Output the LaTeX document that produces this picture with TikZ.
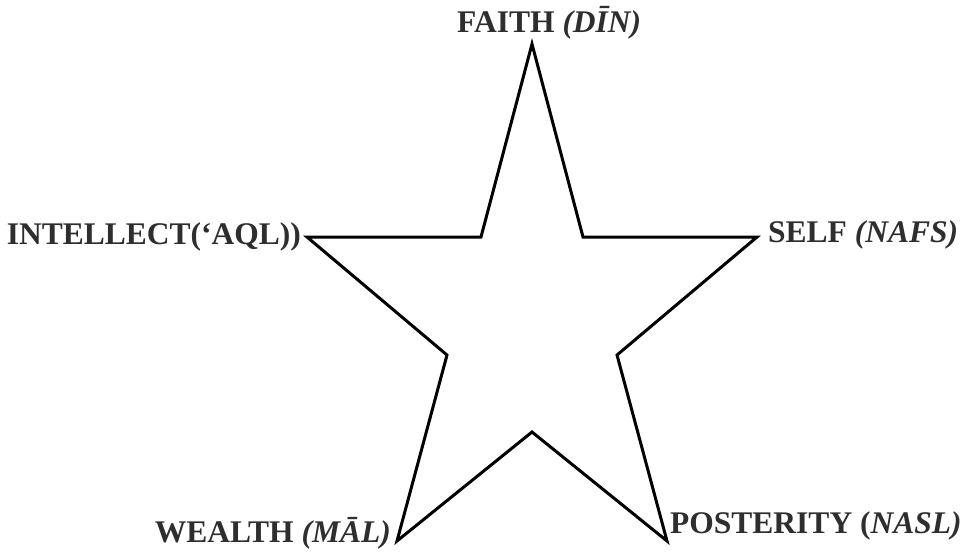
\documentclass[tikz,border=0pt]{standalone}
\usepackage{fontspec}
\setmainfont{Liberation Serif}
\definecolor{linec}{HTML}{000000}
\definecolor{textc}{HTML}{2E2E2E}
\usepackage{tikz}
\usetikzlibrary{positioning,calc}
\tikzset{
  star/.style={draw=linec,line width=3pt,line join=miter,miter limit=10},
  lbl/.style={font=\fontsize{31.5}{33}\selectfont\bfseries,text=textc,inner sep=0pt},
}
\begin{document}
\begin{tikzpicture}[x=1pt,y=-1pt]
  \useasboundingbox (0,0) rectangle (963,554);
  % star points
  \coordinate (top) at (532,44);
  \coordinate (in1) at (583,237);
  \coordinate (rtip) at (757,237);
  \coordinate (in2) at (617,355);
  \coordinate (brtip) at (667,541);
  \coordinate (in3) at (532,432);
  \coordinate (bltip) at (397,541);
  \coordinate (in4) at (447,355);
  \coordinate (ltip) at (307,237);
  \coordinate (in5) at (481,237);
  \draw[star] (top) -- (in1) -- (rtip) -- (in2) -- (brtip) -- (in3)
    -- (bltip) -- (in4) -- (ltip) -- (in5) -- cycle;
  % labels
  \node[lbl,anchor=base west] (faith) at ($(top)+(-75,-12)$) {FAITH \textit{(DĪN)}};
  \node[lbl,anchor=base east] (intellect) at ($(ltip)+(-6,7)$) {INTELLECT(‘AQL))};
  \node[lbl,anchor=base west] (self) at ($(rtip)+(11,5)$) {SELF \textit{(NAFS)}};
  \node[lbl,anchor=base east] (wealth) at ($(bltip)+(-6,1)$) {WEALTH \textit{(MĀL)}};
  \node[lbl,anchor=base west] (posterity) at ($(brtip)+(3,-8)$) {POSTERITY (\textit{NASL)}};
\end{tikzpicture}
\end{document}
